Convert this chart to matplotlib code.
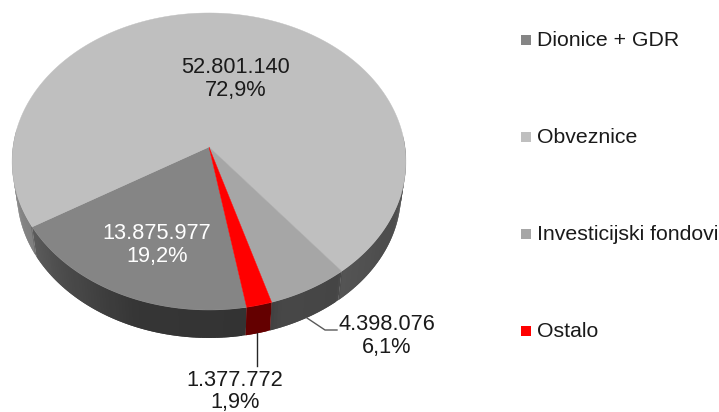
import numpy as np
import matplotlib
matplotlib.use("Agg")
import matplotlib.pyplot as plt
from matplotlib.patches import Polygon, Rectangle

plt.rcParams['font.family'] = ['Liberation Sans', 'DejaVu Sans']
FS = 15.7
FS_LEG = 15.3

categories = ["Dionice + GDR", "Obveznice", "Investicijski fondovi", "Ostalo"]
values = [13875977, 52801140, 4398076, 1377772]
colors = ["#858585", "#bfbfbf", "#a6a6a6", "#ff0000"]
start_angle = 170.0  # clockwise from top

# projection of the tilted disc, in pixels
cx, cy = 209, 147
b, a, k = 196.0, 147.1, 0.0976
depth, shrink = 32, 0.975

def project(theta, s=1.0, dy=0.0):
    u, v = np.sin(np.radians(theta)), np.cos(np.radians(theta))
    w = 1 + k * v
    return cx + s * b * u / w, cy - s * a * v / w + dy

# grey level of the rim, with a step at the slice borders
rim_angle = [90, 100, 120, 141, 142, 160, 170, 200, 225, 239, 240, 255, 270]
rim_grey = [0.33, 0.31, 0.30, 0.33, 0.27, 0.28, 0.20, 0.21, 0.30, 0.36, 0.50, 0.53, 0.56]

def side_color(theta, i):
    t = theta % 360
    if categories[i] == "Ostalo":
        return "#640000"
    return str(np.interp(t, rim_angle, rim_grey))

fig = plt.figure(figsize=(7.19, 4.12), dpi=100)
ax = fig.add_axes([0, 0, 1, 1])
ax.set_xlim(0, 719)
ax.set_ylim(412, 0)
ax.axis('off')

total = sum(values)
edges = start_angle + np.cumsum([0] + values) / total * 360

# side wall first, the top covers whatever is at the back
# each strip runs on under the next one so no seams show
for i in range(len(values)):
    th = np.arange(edges[i], edges[i + 1], 1.0)
    for t0 in th:
        if not 85 < (t0 % 360) < 275:
            continue
        t1 = min(t0 + 2.0, edges[i + 1])
        tt = np.linspace(t0, t1, 5)
        xa, ya = project(tt)
        xb, yb = project(tt[::-1], shrink, depth)
        p = list(zip(xa, ya)) + list(zip(xb, yb))
        c = side_color(t0 + 0.5, i)
        ax.add_patch(Polygon(p, closed=True, fc=c, ec='none'))

# top surface
for i in range(len(values)):
    th = np.linspace(edges[i], edges[i + 1], 200)
    xs, ys = project(th)
    p = [(cx, cy)] + list(zip(xs, ys))
    ax.add_patch(Polygon(p, closed=True, fc=colors[i], ec=colors[i], lw=0.3))

def label(v):
    return f"{v:,}".replace(",", ".") + "\n" + f"{v / total * 100:.1f}%".replace(".", ",")

label_x = [157, 236, 387, 235]
label_y = [245, 79, 336, 391.5]
label_colors = ["white", "#1a1a1a", "#1a1a1a", "#1a1a1a"]
for i in range(len(values)):
    ax.text(label_x[i], label_y[i], label(values[i]), ha='center', va='center',
            fontsize=FS, color=label_colors[i], linespacing=1.12)

# leader lines
ax.plot([307, 325, 337], [318, 330, 330], color="#595959", lw=1)
ax.plot([257, 257], [333, 366], color="#262626", lw=1)

# legend
legend_y = [40, 137, 234, 331]
for i in range(len(categories)):
    ax.add_patch(Rectangle((521, legend_y[i] - 5), 10, 10, fc=colors[i], ec='none'))
    ax.text(537, legend_y[i] + 0.5, categories[i], ha='left', va='center', fontsize=FS_LEG, color="#1a1a1a")

plt.savefig("out.png", dpi=100)
